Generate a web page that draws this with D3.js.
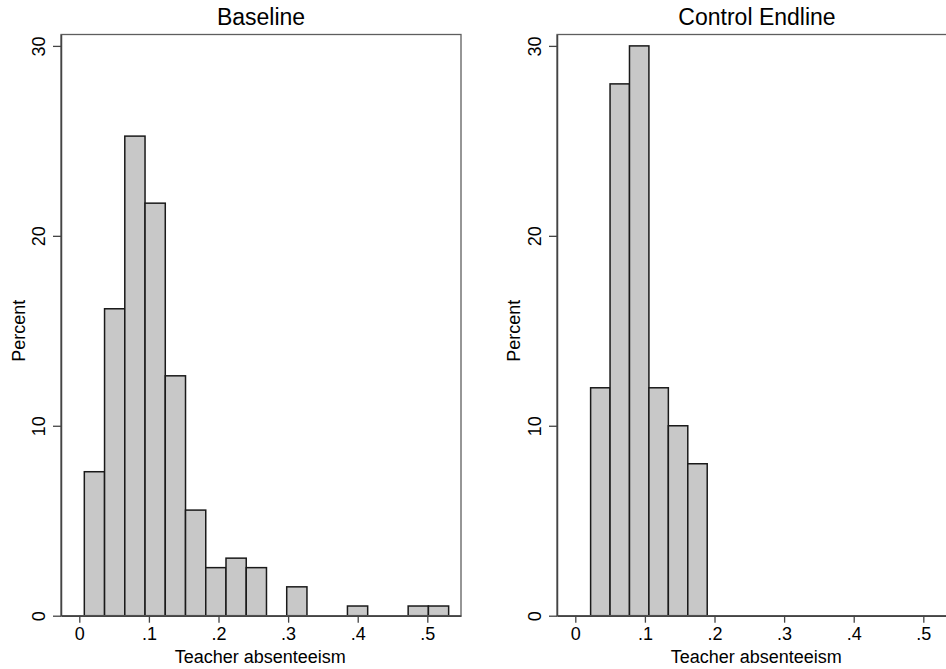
<!DOCTYPE html>
<html>
<head>
<meta charset="utf-8">
<script src="https://cdn.jsdelivr.net/npm/d3@7/dist/d3.min.js"></script>
<style>
  html, body { margin: 0; padding: 0; background: #fff; }
  svg { display: block; font-family: "Liberation Sans", Arial, Helvetica, sans-serif; }
</style>
</head>
<body>
<svg id="chart" width="946" height="669"></svg>
<script>
// ---- DATA ----
const panelTitles = ["Baseline", "Control Endline"];
const xTickValues = [0, 0.1, 0.2, 0.3, 0.4, 0.5];
const xTickLabels = ["0", ".1", ".2", ".3", ".4", ".5"];
const yTickValues = [0, 10, 20, 30];
const yTickLabels = ["0", "10", "20", "30"];
const xAxisTitle = "Teacher absenteeism";
const yAxisTitle = "Percent";

// Baseline histogram: bin start, bin width, percents per bin
const baselineStart = 0.0072;
const baselineWidth = 0.02908;
const baselinePercent = [7.58, 16.16, 25.25, 21.72, 12.63, 5.56, 2.53, 3.03, 2.53, 0, 1.52, 0, 0, 0.51, 0, 0, 0.51, 0.51];

// Control endline histogram
const endlineStart = 0.022;
const endlineWidth = 0.02792;
const endlinePercent = [12, 28, 30, 12, 10, 8];

// ---- LAYOUT ----
const svg = d3.select("#chart");
const W = 946, H = 669;
const xDomain = [-0.0263, 0.5484];
const yDomain = [0, 30.6];
const panels = [
  { title: panelTitles[0], left: 61, right: 461, start: baselineStart, width: baselineWidth, values: baselinePercent, tickLabelX: 45, yTitleX: 25 },
  { title: panelTitles[1], left: 557, right: 957, start: endlineStart, width: endlineWidth, values: endlinePercent, tickLabelX: 541, yTitleX: 520 }
];
const plotTop = 34.5, plotBottom = 615.7;
const frameColor = "#5e5e5e";
const fontFam = '"Liberation Sans", Arial, Helvetica, sans-serif';

panels.forEach(p => {
  const x = d3.scaleLinear().domain(xDomain).range([p.left, p.right]);
  const y = d3.scaleLinear().domain(yDomain).range([plotBottom, plotTop]);
  const g = svg.append("g");

  // Bars
  const bins = p.values.map((v, i) => ({ x0: p.start + i * p.width, x1: p.start + (i + 1) * p.width, v }));
  g.selectAll("rect.bar").data(bins.filter(b => b.v > 0)).enter().append("rect")
    .attr("class", "bar")
    .attr("x", d => x(d.x0))
    .attr("width", d => x(d.x1) - x(d.x0))
    .attr("y", d => y(d.v))
    .attr("height", d => y(0) - y(d.v))
    .attr("fill", "#c8c8c8")
    .attr("stroke", "#1a1a1a")
    .attr("stroke-width", 1.5);

  // Frame (top, right lighter)
  g.append("rect")
    .attr("x", p.left).attr("y", plotTop)
    .attr("width", p.right - p.left).attr("height", plotBottom - plotTop)
    .attr("fill", "none").attr("stroke", frameColor).attr("stroke-width", 1.3);

  // X axis
  const xAxis = d3.axisBottom(x).tickValues(xTickValues)
    .tickFormat((d, i) => xTickLabels[i]).tickSize(7).tickSizeOuter(0).tickPadding(5);
  const xg = g.append("g").attr("transform", `translate(0,${plotBottom})`).call(xAxis);
  xg.select(".domain").attr("stroke", "#444").attr("stroke-width", 1.5);
  xg.selectAll(".tick line").attr("stroke", "#444").attr("stroke-width", 1.3);
  xg.selectAll(".tick text").attr("font-size", 18).attr("font-family", fontFam).attr("fill", "#000");

  // Y axis
  const yAxis = d3.axisLeft(y).tickValues(yTickValues)
    .tickFormat((d, i) => yTickLabels[i]).tickSize(8).tickSizeOuter(0);
  const yg = g.append("g").attr("transform", `translate(${p.left},0)`).call(yAxis);
  yg.select(".domain").attr("stroke", "#444").attr("stroke-width", 1.5);
  yg.selectAll(".tick line").attr("stroke", "#444").attr("stroke-width", 1.3);
  yg.selectAll(".tick text")
    .attr("x", null).attr("dy", null)
    .attr("font-size", 18).attr("font-family", fontFam).attr("fill", "#000")
    .attr("text-anchor", "middle")
    .attr("transform", `translate(${p.tickLabelX - p.left},0) rotate(-90)`);

  // Titles
  g.append("text")
    .attr("x", (p.left + p.right) / 2).attr("y", 25)
    .attr("text-anchor", "middle").attr("font-size", 23).attr("font-family", fontFam)
    .text(p.title);

  g.append("text")
    .attr("x", (x(0) + x(0.5)) / 2 + 7).attr("y", 663)
    .attr("text-anchor", "middle").attr("font-size", 18).attr("font-family", fontFam)
    .text(xAxisTitle);

  g.append("text")
    .attr("transform", `translate(${p.yTitleX},${(y(0) + y(30)) / 2}) rotate(-90)`)
    .attr("text-anchor", "middle").attr("font-size", 18).attr("font-family", fontFam)
    .text(yAxisTitle);
});
</script>
</body>
</html>
